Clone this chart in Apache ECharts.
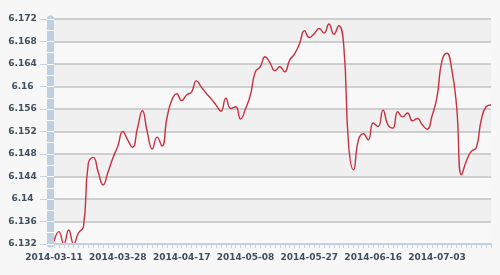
<!DOCTYPE html>
<html>
<head>
<meta charset="utf-8">
<script src="https://cdn.jsdelivr.net/npm/echarts@6/dist/echarts.min.js"></script>
<style>html,body{margin:0;padding:0;background:#f7f7f7;}#c{width:500px;height:275px;}</style>
</head>
<body>
<div id="c"></div>
<script>
var dates = [
'2014-03-11','2014-03-12','2014-03-13','2014-03-14','2014-03-17','2014-03-18','2014-03-19','2014-03-20','2014-03-21','2014-03-24','2014-03-25','2014-03-26','2014-03-27','2014-03-28',
'2014-03-31','2014-04-01','2014-04-02','2014-04-03','2014-04-04','2014-04-08','2014-04-09','2014-04-10','2014-04-11','2014-04-14','2014-04-15','2014-04-16','2014-04-17',
'2014-04-18','2014-04-21','2014-04-22','2014-04-23','2014-04-24','2014-04-25','2014-04-28','2014-04-29','2014-04-30','2014-05-05','2014-05-06','2014-05-07','2014-05-08',
'2014-05-09','2014-05-12','2014-05-13','2014-05-14','2014-05-15','2014-05-16','2014-05-19','2014-05-20','2014-05-21','2014-05-22','2014-05-23','2014-05-26','2014-05-27',
'2014-05-28','2014-05-29','2014-05-30','2014-06-03','2014-06-04','2014-06-05','2014-06-06','2014-06-09','2014-06-10','2014-06-11','2014-06-12','2014-06-13','2014-06-16',
'2014-06-17','2014-06-18','2014-06-19','2014-06-20','2014-06-23','2014-06-24','2014-06-25','2014-06-26','2014-06-27','2014-06-30','2014-07-01','2014-07-02','2014-07-03',
'2014-07-04','2014-07-07','2014-07-08','2014-07-09','2014-07-10','2014-07-11','2014-07-14','2014-07-15','2014-07-16','2014-07-17','2014-07-18'
];
var rates = [
6.1325,6.1342,6.1320,6.1345,6.1320,6.1340,6.1351,6.1464,6.1474,6.1448,
6.1425,6.1448,6.1473,6.1494,6.1520,6.1505,6.1492,6.1526,6.1557,6.1519,
6.1489,6.1510,6.1494,6.1544,6.1576,6.1587,6.1575,6.1585,6.1590,6.1610,
6.1599,6.1588,6.1578,6.1567,6.1556,6.1579,6.1561,6.1564,6.1542,6.1560,
6.1585,6.1626,6.1635,6.1653,6.1642,6.1628,6.1635,6.1626,6.1647,6.1658,
6.1676,6.1699,6.1687,6.1694,6.1703,6.1695,6.1711,6.1693,6.1708,6.1674,
6.1496,6.1452,6.1505,6.1516,6.1505,6.1535,6.1529,6.1558,6.1532,6.1526,
6.1555,6.1546,6.1553,6.1539,6.1543,6.1532,6.1524,6.1548,6.1581,6.1645,
6.1659,6.1631,6.1564,6.1443,6.1468,6.1485,6.1491,6.1540,6.1564,6.1567
];
var yMin = 6.132, yMax = 6.172, yStep = 0.004;

var labelFont = {fontFamily:'DejaVu Sans', fontWeight:'bold', fontSize:9, color:'#3f4f61'};
var chart = echarts.init(document.getElementById('c'));
chart.setOption({
  backgroundColor:'#f7f7f7',
  animation:false,
  grid:{left:54, right:9, top:19, bottom:31, containLabel:false},
  xAxis:{
    type:'category', data:dates, boundaryGap:false, z:5,
    axisLine:{show:true, lineStyle:{color:'#c3d1e0', width:2}},
    axisTick:{show:true, interval:0, length:4, lineStyle:{color:'#c3d1e0', width:1}},
    axisLabel:Object.assign({interval:12, margin:9, hideOverlap:false}, labelFont),
    splitLine:{show:false}
  },
  yAxis:[
    {type:'value', min:yMin, max:yMax, interval:yStep, position:'left', offset:7, z:1,
     axisLine:{show:false},
     axisTick:{show:true, length:7, lineStyle:{color:'#c3d1e0', width:1}},
     axisLabel:Object.assign({margin:24.5, align:'center'}, labelFont),
     splitLine:{show:true, lineStyle:{color:'#c2c2c2', width:1.5}},
     splitArea:{show:true, areaStyle:{color:['#f8f8f8','#f0f0f0']}}
    },
    {type:'value', min:yMin, max:yMax, interval:yStep, position:'left', offset:3.5, z:6,
     axisLine:{show:true, lineStyle:{color:'#bfcfe0', width:7}},
     axisTick:{show:false}, axisLabel:{show:false}, splitLine:{show:false}
    },
    {type:'value', min:yMin, max:yMax, interval:yStep, position:'left', offset:7, z:7,
     axisLine:{show:false},
     axisTick:{show:true, inside:true, length:7, lineStyle:{color:'#ffffff', width:1}},
     minorTick:{show:true, splitNumber:2, length:7, lineStyle:{color:'#ffffff', width:1}},
     axisLabel:{show:false}, splitLine:{show:false}
    }
  ],
  series:[{
    type:'line', data:rates, yAxisIndex:0, smooth:0.5, symbol:'none',
    lineStyle:{color:'#c8303f', width:1.4}
  }]
});
</script>
</body>
</html>
